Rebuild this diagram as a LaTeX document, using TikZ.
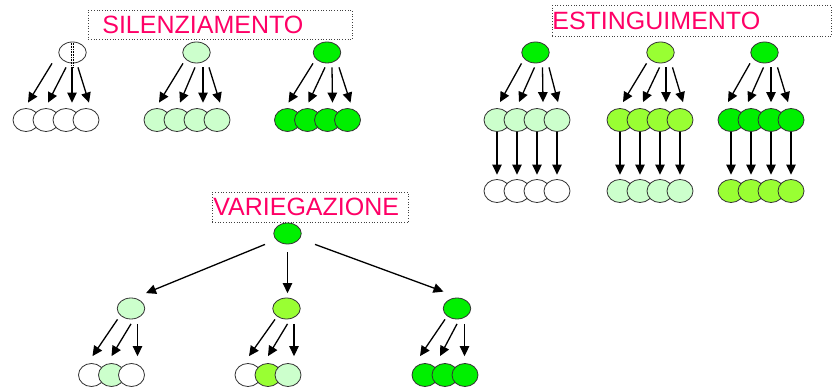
\documentclass[tikz,border=0pt]{standalone}
\usepackage{fontspec}
\setmainfont{Liberation Sans}
\usetikzlibrary{calc,arrows.meta,shapes.geometric}
\definecolor{pale}{RGB}{204,255,204}
\definecolor{lime}{RGB}{153,255,51}
\definecolor{bright}{RGB}{0,240,0}
\definecolor{titlepink}{RGB}{255,0,102}
\tikzset{
	cell/.style={ellipse, draw=black!80, line width=0.8pt, minimum width=26pt, minimum height=23pt, inner sep=0pt},
	top/.style={cell, minimum width=27.5pt, minimum height=21pt},
	arr/.style={line width=1.3pt, -{Triangle[length=10pt,width=9.5pt]}},
	titlebox/.style={draw=black!75, dotted, line width=0.7pt, anchor=north west, align=left, text=titlepink, font=\fontsize{25}{30}\selectfont}
}

\begin{document}
\begin{tikzpicture}[x=1pt, y=-1pt]
			%%%%% START %%%%%
			\useasboundingbox (0, 0) rectangle (832, 387);
			
			%%%%% SILENZIAMENTO %%%%%
			\node[titlebox, text width=236pt, inner xsep=14pt, minimum height=29pt] (stitle) at (88, 10) {SILENZIAMENTO};
			
			\node[top, fill=white] (sa) at (72.5, 52.5) {};
			\node[cell, fill=white] (sa1) at (26, 120) {};
			\node[cell, fill=white] (sa2) at (46, 120) {};
			\node[cell, fill=white] (sa3) at (66, 120) {};
			\node[cell, fill=white] (sa4) at (86, 120) {};
			\draw[densely dotted, line width=0.6pt] ($(sa.north)+(-1.5, 1)$) -- ($(sa.south)+(-1.5, 4)$);
			\draw[densely dotted, line width=0.6pt] ($(sa.north)+(1, 1)$) -- ($(sa.south)+(1, 4)$);
			\draw[arr] ($(sa.south)+(-20.5, 0)$) -- ($(sa1.north)+(2, -5.5)$);
			\draw[arr] ($(sa.south)+(-6.5, 4)$) -- ($(sa2.north)+(2, -5.5)$);
			\draw[arr] ($(sa.south)+(-0.5, 4)$) -- ($(sa3.north)+(6, -5.5)$);
			\draw[arr] ($(sa.south)+(5.5, 4)$) -- ($(sa4.north)+(3, -5.5)$);
			
			\node[top, fill=pale] (sb) at (196.5, 52.5) {};
			\node[cell, fill=pale] (sb1) at (157, 120) {};
			\node[cell, fill=pale] (sb2) at (177, 120) {};
			\node[cell, fill=pale] (sb3) at (197, 120) {};
			\node[cell, fill=pale] (sb4) at (217, 120) {};
			\draw[arr] ($(sb.south)+(-13.5, 0)$) -- ($(sb1.north)+(2, -5.5)$);
			\draw[arr] ($(sb.south)+(-1.5, 4)$) -- ($(sb2.north)+(3, -5.5)$);
			\draw[arr] ($(sb.south)+(6.5, 4)$) -- ($(sb3.north)+(6, -5.5)$);
			\draw[arr] ($(sb.south)+(12.5, 4)$) -- ($(sb4.north)+(3, -5.5)$);
			
			\node[top, fill=bright] (sc) at (327, 52.5) {};
			\node[cell, fill=bright] (sc1) at (287.5, 120) {};
			\node[cell, fill=bright] (sc2) at (307.5, 120) {};
			\node[cell, fill=bright] (sc3) at (327.5, 120) {};
			\node[cell, fill=bright] (sc4) at (347.5, 120) {};
			\draw[arr] ($(sc.south)+(-14, 0)$) -- ($(sc1.north)+(1, -5.5)$);
			\draw[arr] ($(sc.south)+(-2, 4)$) -- ($(sc2.north)+(1, -5.5)$);
			\draw[arr] ($(sc.south)+(5, 4)$) -- ($(sc3.north)+(5, -5.5)$);
			\draw[arr] ($(sc.south)+(12, 4)$) -- ($(sc4.north)+(3, -5.5)$);
			
			%%%%% ESTINGUIMENTO %%%%%
			\node[titlebox, text width=279pt, inner xsep=0pt, minimum height=31pt] (etitle) at (552, 5) {ESTINGUIMENTO};
			
			\node[top, fill=bright] (ea) at (535.5, 52.5) {};
			\node[cell, fill=pale] (eam1) at (497, 120) {};
			\node[cell, fill=pale] (eam2) at (517, 120) {};
			\node[cell, fill=pale] (eam3) at (537, 120) {};
			\node[cell, fill=pale] (eam4) at (557, 120) {};
			\node[cell, fill=white] (eab1) at (497, 191) {};
			\node[cell, fill=white] (eab2) at (517, 191) {};
			\node[cell, fill=white] (eab3) at (537, 191) {};
			\node[cell, fill=white] (eab4) at (557, 191) {};
			\draw[arr] ($(ea.south)+(-14, 0)$) -- ($(eam1.north)+(3, -6)$);
			\draw[arr] ($(ea.south)+(-1, 4)$) -- ($(eam2.north)+(2, -6)$);
			\draw[arr] ($(ea.south)+(7, 4)$) -- ($(eam3.north)+(6, -6)$);
			\draw[arr] ($(ea.south)+(13.5, 4)$) -- ($(eam4.north)+(1, -6)$);
			\draw[arr, shorten <=0.5pt, shorten >=4.5pt] (eam1) -- (eab1);
			\draw[arr, shorten <=0.5pt, shorten >=4.5pt] (eam2) -- (eab2);
			\draw[arr, shorten <=0.5pt, shorten >=4.5pt] (eam3) -- (eab3);
			\draw[arr, shorten <=0.5pt, shorten >=4.5pt] (eam4) -- (eab4);
			
			\node[top, fill=lime] (eb) at (660.5, 52.5) {};
			\node[cell, fill=lime] (ebm1) at (620, 120) {};
			\node[cell, fill=lime] (ebm2) at (640, 120) {};
			\node[cell, fill=lime] (ebm3) at (660, 120) {};
			\node[cell, fill=lime] (ebm4) at (680, 120) {};
			\node[cell, fill=pale] (ebb1) at (620, 191) {};
			\node[cell, fill=pale] (ebb2) at (640, 191) {};
			\node[cell, fill=pale] (ebb3) at (660, 191) {};
			\node[cell, fill=pale] (ebb4) at (680, 191) {};
			\draw[arr] ($(eb.south)+(-14, 0)$) -- ($(ebm1.north)+(3, -6)$);
			\draw[arr] ($(eb.south)+(-1, 4)$) -- ($(ebm2.north)+(3, -6)$);
			\draw[arr] ($(eb.south)+(5.5, 4)$) -- ($(ebm3.north)+(6, -6)$);
			\draw[arr] ($(eb.south)+(12, 4)$) -- ($(ebm4.north)+(3, -6)$);
			\draw[arr, shorten <=0.5pt, shorten >=4.5pt] (ebm1) -- (ebb1);
			\draw[arr, shorten <=0.5pt, shorten >=4.5pt] (ebm2) -- (ebb2);
			\draw[arr, shorten <=0.5pt, shorten >=4.5pt] (ebm3) -- (ebb3);
			\draw[arr, shorten <=0.5pt, shorten >=4.5pt] (ebm4) -- (ebb4);
			
			\node[top, fill=bright] (ec) at (764.5, 52.5) {};
			\node[cell, fill=bright] (ecm1) at (731, 120) {};
			\node[cell, fill=bright] (ecm2) at (751, 120) {};
			\node[cell, fill=bright] (ecm3) at (771, 120) {};
			\node[cell, fill=bright] (ecm4) at (791, 120) {};
			\node[cell, fill=lime] (ecb1) at (731, 191) {};
			\node[cell, fill=lime] (ecb2) at (751, 191) {};
			\node[cell, fill=lime] (ecb3) at (771, 191) {};
			\node[cell, fill=lime] (ecb4) at (791, 191) {};
			\draw[arr] ($(ec.south)+(-14.5, 0)$) -- ($(ecm1.north)+(-3, -6)$);
			\draw[arr] ($(ec.south)+(-1, 4)$) -- ($(ecm2.north)+(-3, -6)$);
			\draw[arr] ($(ec.south)+(6.5, 4)$) -- ($(ecm3.north)+(0, -6)$);
			\draw[arr] ($(ec.south)+(13, 4)$) -- ($(ecm4.north)+(-3, -6)$);
			\draw[arr, shorten <=0.5pt, shorten >=4.5pt] (ecm1) -- (ecb1);
			\draw[arr, shorten <=0.5pt, shorten >=4.5pt] (ecm2) -- (ecb2);
			\draw[arr, shorten <=0.5pt, shorten >=4.5pt] (ecm3) -- (ecb3);
			\draw[arr, shorten <=0.5pt, shorten >=4.5pt] (ecm4) -- (ecb4);
			
			%%%%% VARIEGAZIONE %%%%%
			\node[titlebox, text width=194pt, inner xsep=1pt, minimum height=30pt] (vtitle) at (212, 192) {VARIEGAZIONE};
			
			\node[top, fill=bright] (v) at (287.5, 233.5) {};
			\node[top, fill=pale] (va) at (131, 308.5) {};
			\node[top, fill=lime] (vb) at (286.5, 308.5) {};
			\node[top, fill=bright] (vc) at (457, 308.5) {};
			\draw[arr] ($(v.south)+(-22.5, 0)$) -- ($(va.north)+(15, -4.5)$);
			\draw[arr] ($(v.south)+(0, 8)$) -- ($(vb.north)+(1, -4.5)$);
			\draw[arr] ($(v.south)+(27.5, 0)$) -- ($(vc.north)+(-13.5, -6)$);
			
			\node[cell, fill=white] (va1) at (91.5, 375) {};
			\node[cell, fill=pale] (va2) at (111.5, 375) {};
			\node[cell, fill=white] (va3) at (131.5, 375) {};
			\draw[arr] ($(va.south)+(-13.5, 0)$) -- ($(va1.north)+(1, -7)$);
			\draw[arr] ($(va.south)+(0, 4.5)$) -- ($(va2.north)+(0, -7)$);
			\draw[arr] ($(va.south)+(6.5, 4.5)$) -- ($(va3.north)+(6, -7)$);
			
			\node[cell, fill=white] (vb1) at (248, 375) {};
			\node[cell, fill=lime] (vb2) at (268, 375) {};
			\node[cell, fill=pale] (vb3) at (288, 375) {};
			\draw[arr] ($(vb.south)+(-11.5, 0)$) -- ($(vb1.north)+(1, -7)$);
			\draw[arr] ($(vb.south)+(1, 4.5)$) -- ($(vb2.north)+(0, -7)$);
			\draw[arr] ($(vb.south)+(7.5, 4.5)$) -- ($(vb3.north)+(6, -7)$);
			
			\node[cell, fill=bright] (vc1) at (425, 375) {};
			\node[cell, fill=bright] (vc2) at (445, 375) {};
			\node[cell, fill=bright] (vc3) at (465, 375) {};
			\draw[arr] ($(vc.south)+(-12, 0)$) -- ($(vc1.north)+(-5, -7)$);
			\draw[arr] ($(vc.south)+(0, 4.5)$) -- ($(vc2.north)+(-5, -7)$);
			\draw[arr] ($(vc.south)+(7.5, 4.5)$) -- ($(vc3.north)+(-0.5, -7)$);
			
			%%%%% END %%%%%
\end{tikzpicture}
\end{document}
